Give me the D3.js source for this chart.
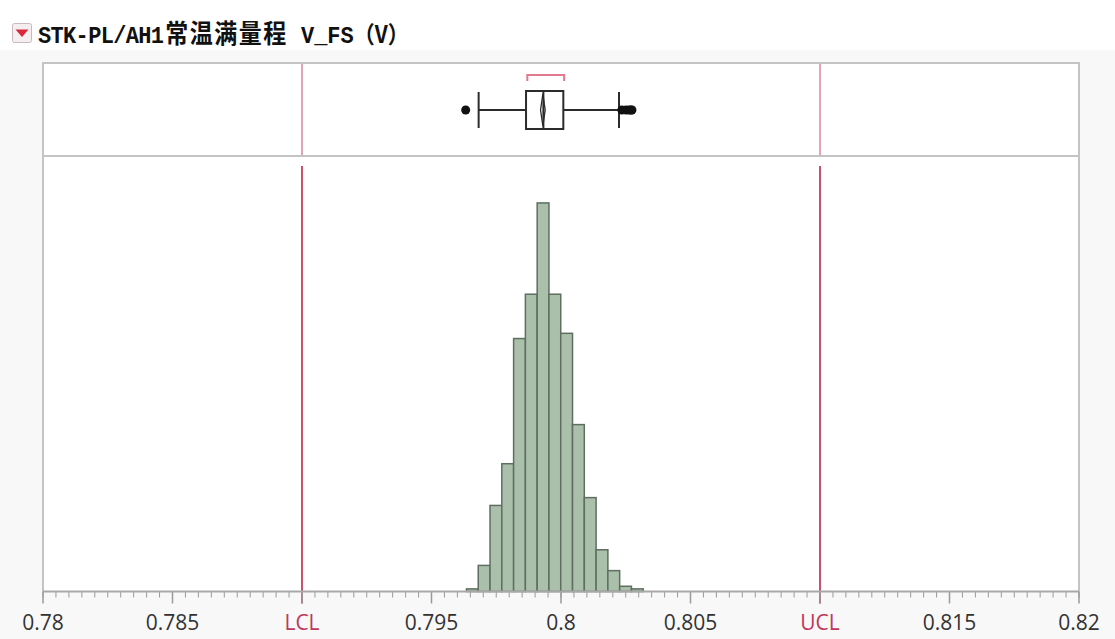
<!DOCTYPE html>
<html>
<head>
<meta charset="utf-8">
<script src="https://cdn.jsdelivr.net/npm/d3@7"></script>
<style>
  html, body { margin: 0; padding: 0; background: #f8f8f8; }
  svg { display: block; }
</style>
</head>
<body>
<svg id="chart" width="1115" height="639"></svg>
<script>
// ---- data ----
const titleLatin = "STK-PL/AH1";
const titleCjk = "常温满量程";
const titleTail = " V_FS";
const titleUnit = "（V）";

const xDomain = [0.78, 0.82];
const xTickValues = [0.78, 0.785, 0.79, 0.795, 0.8, 0.805, 0.81, 0.815, 0.82];
const xTickLabels = ["0.78", "0.785", "LCL", "0.795", "0.8", "0.805", "UCL", "0.815", "0.82"];

const limitNames = ["LCL", "UCL"];
const limitValues = [0.79, 0.81];

// histogram bin edges and counts
const binEdges = [0.79635, 0.796805, 0.79726, 0.797715, 0.79817, 0.798625, 0.79908, 0.799535,
                  0.79999, 0.800445, 0.8009, 0.801355, 0.80181, 0.802265, 0.80272, 0.803175];
const binCounts = [1, 10, 33, 49, 97, 114, 149, 114, 99, 64, 36, 16, 8, 2, 1];
const countMax = 167;

// outlier box plot summary
const boxQuartiles = [0.79865, 0.79932, 0.80009];   // Q1, median, Q3
const whiskerEnds = [0.79682, 0.80224];
const outlierValues = [0.79632, 0.80235, 0.80251, 0.80263, 0.80270, 0.80274];
const meanValue = 0.79930;
const meanCI = [0.79921, 0.79939];
const shortestHalf = [0.79870, 0.80012];

// ---- layout ----
const svg = d3.select("#chart");
const left = 43, right = 1079;
const boxTop = 63, boxBottom = 156;
const histTop = 156, histBottom = 591.5;

const x = d3.scaleLinear().domain(xDomain).range([left, right]);
const y = d3.scaleLinear().domain([0, countMax]).range([histBottom, histTop]);

const frameColor = "#c4c4c4";
const limitColor = "#cc4f6e";

// title strip
svg.append("rect").attr("x", 0).attr("y", 0).attr("width", 1115).attr("height", 50).attr("fill", "#ffffff");

// outline button with red triangle
const btn = svg.append("g");
btn.append("rect").attr("x", 12.5).attr("y", 23.5).attr("width", 19).attr("height", 19)
  .attr("rx", 2).attr("fill", "#f4eef0").attr("stroke", "#c9b9be").attr("stroke-width", 1);
btn.append("path").attr("d", "M15.5,29.5 L28.5,29.5 L22,37 Z").attr("fill", "#d8283c");

// title, stretched slightly in height
const title = svg.append("text")
  .attr("transform", "translate(38,43) scale(1,1.12)")
  .attr("fill", "#111")
  .attr("font-weight", "bold");
title.append("tspan").attr("font-family", "'Liberation Mono', monospace").attr("font-size", 22)
  .attr("textLength", 126).text(titleLatin);
title.append("tspan").attr("dx", 2).attr("font-family", "'Noto Sans CJK SC'").attr("font-size", 23)
  .attr("letter-spacing", 1.5).text(titleCjk);
title.append("tspan").attr("font-family", "'Liberation Mono', monospace").attr("font-size", 22).text(titleTail);
title.append("tspan").attr("font-family", "'Noto Sans CJK SC'").attr("font-size", 21).text(titleUnit);

// plot backgrounds
svg.append("rect").attr("x", left).attr("y", boxTop).attr("width", right - left).attr("height", histBottom - boxTop)
  .attr("fill", "#ffffff");

// spec limit lines
limitValues.forEach(v => {
  svg.append("line").attr("x1", x(v)).attr("x2", x(v)).attr("y1", boxTop).attr("y2", boxBottom)
    .attr("stroke", "#e3a3b3").attr("stroke-width", 2);
  svg.append("line").attr("x1", x(v)).attr("x2", x(v)).attr("y1", histTop + 10).attr("y2", histBottom + 12)
    .attr("stroke", limitColor).attr("stroke-width", 2);
});

// histogram bars
svg.append("g").selectAll("rect").data(binCounts).join("rect")
  .attr("x", (d, i) => x(binEdges[i]))
  .attr("width", (d, i) => x(binEdges[i + 1]) - x(binEdges[i]))
  .attr("y", d => y(d))
  .attr("height", d => y(0) - y(d))
  .attr("fill", "#abc0ab")
  .attr("stroke", "#5e6e60")
  .attr("stroke-width", 1.5);

// frame
const frame = svg.append("g").attr("fill", "none").attr("stroke", frameColor).attr("stroke-width", 2);
frame.append("rect").attr("x", left).attr("y", boxTop).attr("width", right - left).attr("height", boxBottom - boxTop);
frame.append("line").attr("x1", left).attr("x2", left).attr("y1", boxBottom).attr("y2", histBottom);
frame.append("line").attr("x1", right).attr("x2", right).attr("y1", boxBottom).attr("y2", histBottom);

// x axis: minor and major ticks
const axis = svg.append("g");
const minorTicks = x.ticks(80);
axis.selectAll("line.minor").data(minorTicks).join("line")
  .attr("class", "minor")
  .attr("x1", d => x(d)).attr("x2", d => x(d))
  .attr("y1", histBottom).attr("y2", histBottom + 6)
  .attr("stroke", "#9a9a9a").attr("stroke-width", 1);
axis.selectAll("line.major").data(xTickValues).join("line")
  .attr("class", "major")
  .attr("x1", d => x(d)).attr("x2", d => x(d))
  .attr("y1", histBottom).attr("y2", histBottom + 12)
  .attr("stroke", "#9a9a9a").attr("stroke-width", 1.5);
axis.append("line").attr("x1", left).attr("x2", right).attr("y1", histBottom).attr("y2", histBottom)
  .attr("stroke", "#a8a8a8").attr("stroke-width", 2);

axis.selectAll("text").data(xTickValues).join("text")
  .attr("x", d => x(d))
  .attr("y", 630)
  .attr("text-anchor", "middle")
  .attr("font-family", "'Open Sans', sans-serif")
  .attr("font-size", 21)
  .attr("fill", (d, i) => limitNames.includes(xTickLabels[i]) ? "#c0365c" : "#333333")
  .text((d, i) => xTickLabels[i]);

// outlier box plot
const boxMid = 110, boxHalf = 19;
const bp = svg.append("g").attr("stroke", "#2b2b2b").attr("stroke-width", 2);
bp.append("line").attr("x1", x(whiskerEnds[0])).attr("x2", x(boxQuartiles[0])).attr("y1", boxMid).attr("y2", boxMid);
bp.append("line").attr("x1", x(boxQuartiles[2])).attr("x2", x(whiskerEnds[1])).attr("y1", boxMid).attr("y2", boxMid);
whiskerEnds.forEach(v => {
  bp.append("line").attr("x1", x(v)).attr("x2", x(v)).attr("y1", boxMid - boxHalf + 1).attr("y2", boxMid + boxHalf - 1);
});
bp.append("rect").attr("x", x(boxQuartiles[0])).attr("y", boxMid - boxHalf)
  .attr("width", x(boxQuartiles[2]) - x(boxQuartiles[0])).attr("height", boxHalf * 2)
  .attr("fill", "#ffffff");
bp.append("line").attr("x1", x(boxQuartiles[1])).attr("x2", x(boxQuartiles[1]))
  .attr("y1", boxMid - boxHalf).attr("y2", boxMid + boxHalf);
bp.append("path")
  .attr("d", `M${x(meanValue)},${boxMid - boxHalf + 3} L${x(meanCI[1])},${boxMid} L${x(meanValue)},${boxMid + boxHalf - 3} L${x(meanCI[0])},${boxMid} Z`)
  .attr("fill", "none").attr("stroke-width", 1.3);

svg.append("g").selectAll("circle").data(outlierValues).join("circle")
  .attr("cx", d => x(d)).attr("cy", boxMid).attr("r", 4.5)
  .attr("fill", "#111");

// shortest half bracket
svg.append("path")
  .attr("d", `M${x(shortestHalf[0])},81 L${x(shortestHalf[0])},75 L${x(shortestHalf[1])},75 L${x(shortestHalf[1])},81`)
  .attr("fill", "none").attr("stroke", "#e07a8c").attr("stroke-width", 2);
</script>
</body>
</html>
